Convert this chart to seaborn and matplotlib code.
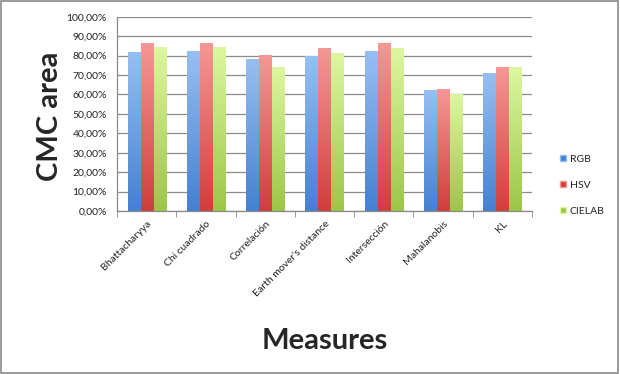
import matplotlib
matplotlib.use("Agg")
import matplotlib.pyplot as plt
import seaborn as sns
import numpy as np
import pandas as pd
from matplotlib.colors import LinearSegmentedColormap
from matplotlib.lines import Line2D
from matplotlib.patches import Rectangle
from matplotlib.ticker import FuncFormatter, FixedLocator

measures = ["Bhattacharyya", "Chi cuadrado", "Correlación", "Earth mover's distance",
            "Intersección", "Mahalanobis", "KL"]
rgb = [81.8, 82.1, 78.2, 79.7, 82.1, 62.2, 70.6]
hsv = [86.1, 86.2, 79.9, 83.9, 86.1, 62.4, 73.9]
cielab = [84.0, 84.0, 73.9, 80.9, 83.5, 60.2, 73.7]
spaces = ["RGB", "HSV", "CIELAB"]

# top (light) -> bottom (dark) colours of each series
grads = {"RGB": ("#98bff2", "#4580d0"),
         "HSV": ("#f59896", "#d03e3c"),
         "CIELAB": ("#ddf7a0", "#9cc648")}

df = pd.DataFrame({"measure": measures * 3,
                   "space": [s for s in spaces for _ in measures],
                   "value": rgb + hsv + cielab})

sns.set_style("white")
plt.rcParams["font.family"] = ["Lato", "DejaVu Sans"]

fig = plt.figure(figsize=(6.2, 3.74), dpi=100)
ax = fig.add_axes([0.189, 0.436, 0.669, 0.519])

palette = {s: grads[s][1] for s in spaces}
sns.barplot(data=df, x="measure", y="value", hue="space", palette=palette,
            width=0.66, ax=ax, legend=False, saturation=1)

xlim = (-0.5, len(measures) - 0.5)

# gradient fill for every bar
for i, container in enumerate(ax.containers):
    top, bottom = grads[spaces[i]]
    cmap = LinearSegmentedColormap.from_list(spaces[i], [bottom, top])
    grad = np.linspace(0, 1, 256).reshape(-1, 1)
    for bar in container:
        x0 = bar.get_x() + 0.006
        w = bar.get_width() - 0.012
        h = bar.get_height()
        bar.set_facecolor("none")
        bar.set_edgecolor("none")
        ax.imshow(grad, cmap=cmap, origin="lower", aspect="auto",
                  extent=[x0, x0 + w, 0, h], zorder=2)
ax.set_xlim(*xlim)
ax.set_ylim(0, 100)

ax.set_yticks(np.arange(0, 101, 10))
ax.yaxis.set_major_formatter(FuncFormatter(lambda v, p: f"{v:.2f}%".replace(".", ",")))
ax.yaxis.grid(True, color="#8c8c8c", linewidth=0.9)
ax.set_axisbelow(True)

ax.set_xticks(range(len(measures)))
ax.set_xticklabels(measures, rotation=45, ha="right", rotation_mode="anchor")
ax.xaxis.set_minor_locator(FixedLocator(np.arange(-0.5, len(measures), 1)))
ax.tick_params(axis="x", which="major", length=0, labelsize=7.5, pad=6, labelcolor="#222222")
ax.tick_params(axis="x", which="minor", length=4, color="#888888", direction="out",
               bottom=True)
ax.tick_params(axis="y", length=4, color="#888888", direction="out", labelsize=7.5,
               labelcolor="#222222", width=0.8)

for s in ["top", "right"]:
    ax.spines[s].set_visible(False)
for s in ["left", "bottom"]:
    ax.spines[s].set_color("#888888")
    ax.spines[s].set_linewidth(0.9)

ax.set_xlabel("")
ax.set_ylabel("")
fig.text(0.080, 0.69, "CMC area", rotation=90, ha="center", va="center",
         fontsize=21, fontweight="bold")
fig.text(0.523, 0.088, "Measures", ha="center", va="center",
         fontsize=21, fontweight="bold")

handles = [Line2D([], [], marker="s", linestyle="none", markersize=5,
                  markerfacecolor=grads[s][1], markeredgecolor=grads[s][0])
           for s in spaces]
fig.legend(handles, spaces, loc="center left", bbox_to_anchor=(0.885, 0.505),
           frameon=False, fontsize=7.5, labelspacing=1.6, handletextpad=0.1,
           handlelength=1.0, labelcolor="#222222")

fig.patches.append(Rectangle((0.002, 0.003), 0.995, 0.993, transform=fig.transFigure,
                             fill=False, edgecolor="#8a8a8a", linewidth=1.2))

fig.savefig("out.png", dpi=100)
